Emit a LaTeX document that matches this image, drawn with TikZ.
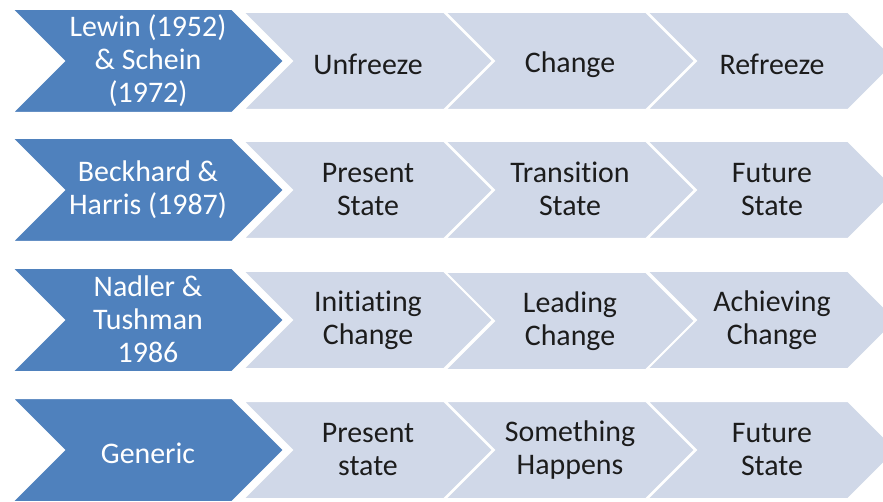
\documentclass[tikz,border=0pt]{standalone}
\usepackage{fontspec}
\setmainfont{Carlito}[Ligatures=NoCommon]
\usetikzlibrary{shapes.symbols}
\definecolor{modelblue}{HTML}{4F81BD}
\definecolor{phaselight}{HTML}{D0D8E8}
\definecolor{phasetext}{HTML}{1C1C1C}
\newcommand\capstrut{\rule[-2bp]{0pt}{31bp}}

\begin{document}
\begin{tikzpicture}[x=1bp, y=-1bp,
    font=\fontsize{30}{33}\selectfont,
    chev/.style={signal, signal to=east, signal from=west,
                 signal pointer angle=90, draw=white, line width=2bp,
                 inner sep=0pt, align=center,
                 execute at begin node=\capstrut,
                 execute at end node=\capstrut},
    model/.style={chev, fill=modelblue, text=white,
                  minimum width=272bp, minimum height=104bp},
    phase/.style={chev, fill=phaselight, text=phasetext,
                  minimum width=250bp, minimum height=98bp}]
  \clip (0,0) rectangle (883,502);
  %% Row 1 -- Lewin & Schein
  \node[phase] (unfreeze) at (368,61) {Unfreeze};
  \node[phase] (change)   at (570,61) {Change};
  \node[phase] (refreeze) at (772,61) {Refreeze};
  \node[model] (lewin)    at (148,61) {Lewin (1952)\\\& Schein\\(1972)};
  %% Row 2 -- Beckhard & Harris
  \node[phase] (present)    at (368,190) {Present\\State};
  \node[phase] (transition) at (570,190) {Transition\\State};
  \node[phase] (future)     at (772,190) {Future\\State};
  \node[model] (beckhard)   at (148,190) {Beckhard \&\\Harris (1987)};
  %% Row 3 -- Nadler & Tushman
  \node[phase] (initiating) at (368,320) {Initiating\\Change};
  \node[phase] (leading)    at (570,321) {Leading\\Change};
  \node[phase] (achieving)  at (772,320) {Achieving\\Change};
  \node[model] (nadler)     at (148,320) {Nadler \&\\Tushman\\1986};
  %% Row 4 -- Generic
  \node[phase] (presentb)  at (368,450) {Present\\state};
  \node[phase] (something) at (570,450) {Something\\Happens};
  \node[phase] (futureb)   at (772,450) {Future\\State};
  \node[model] (generic)   at (148,450) {Generic};
\end{tikzpicture}
\end{document}
